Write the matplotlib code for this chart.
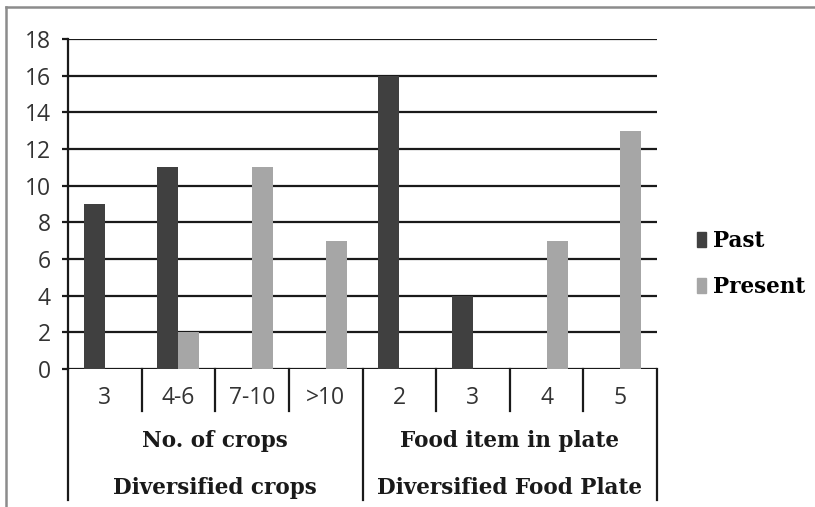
import numpy as np
import matplotlib
matplotlib.use("Agg")
import matplotlib.pyplot as plt
from matplotlib.lines import Line2D
from matplotlib.patches import Patch

# sub-categories along the x axis and their groups
sub_labels = ["3", "4-6", "7-10", ">10", "2", "3", "4", "5"]
group_mid = ["No. of crops", "Food item in plate"]
group_top = ["Diversified crops", "Diversified Food Plate"]

past = [9, 11, 0, 0, 16, 4, 0, 0]
present = [0, 2, 11, 7, 0, 0, 7, 13]

c_past = "#404040"
c_present = "#a6a6a6"
sans = "Open Sans"
serif = "DejaVu Serif"

fig = plt.figure(figsize=(8.15, 5.07), dpi=100)
ax = fig.add_axes([68 / 815, 138 / 507, 589 / 815, 330 / 507])

x = np.arange(len(sub_labels))
w = 0.285
ax.bar(x - w / 2, past, w, color=c_past, zorder=3, label="Past")
ax.bar(x + w / 2, present, w, color=c_present, zorder=3, label="Present")

ax.set_xlim(-0.5, len(sub_labels) - 0.5)
ax.set_ylim(0, 18)
ax.set_yticks(range(0, 19, 2))
ax.yaxis.grid(True, color="#1a1a1a", linewidth=1.6, zorder=1)
ax.tick_params(axis="y", length=4.5, width=1.6, color="#1a1a1a", pad=8,
               labelsize=16.5, labelcolor="#333333")
for lab in ax.get_yticklabels():
    lab.set_fontfamily(sans)
ax.set_xticks([])
for s in ["top", "right", "bottom"]:
    ax.spines[s].set_visible(False)
ax.spines["left"].set_color("#1a1a1a")
ax.spines["left"].set_linewidth(1.6)

# multi-level category axis
tr = ax.get_xaxis_transform()
ax_h = 330.0
def yf(py):
    return (369 - py) / ax_h

for i, lab in enumerate(sub_labels):
    ax.text(i, yf(398), lab, transform=tr, ha="center", va="center",
            fontsize=16.5, family=sans, color="#333333")
for xs in [0.5, 1.5, 2.5, 4.5, 5.5, 6.5]:
    ax.plot([xs, xs], [0, yf(411)], transform=tr, color="#1a1a1a",
            lw=1.6, clip_on=False)
for xs in [-0.5, 3.5, 7.5]:
    ax.plot([xs, xs], [0, yf(500)], transform=tr, color="#1a1a1a",
            lw=1.6, clip_on=False)
for g in range(2):
    cx = g * 4 + 1.5
    ax.text(cx, yf(441), group_mid[g], transform=tr, ha="center", va="center",
            fontsize=15.5, family=serif, fontweight="bold", color="#1a1a1a")
    ax.text(cx, yf(488), group_top[g], transform=tr, ha="center", va="center",
            fontsize=15.5, family=serif, fontweight="bold", color="#1a1a1a")

handles = [Patch(color=c_past), Patch(color=c_present)]
fig.legend(handles, ["Past", "Present"], loc="center left",
           bbox_to_anchor=(697 / 815, 1 - 264 / 507), frameon=False,
           borderpad=0, borderaxespad=0, handlelength=0.42, handleheight=0.7,
           handletextpad=0.32, labelspacing=1.1,
           prop={"family": serif, "weight": "bold", "size": 15.5})

# outer frame (left and top edges)
fig.add_artist(Line2D([6 / 815, 6 / 815], [0, 1 - 7 / 507], color="#8c8c8c",
                      lw=1.8, transform=fig.transFigure))
fig.add_artist(Line2D([6 / 815, 1], [1 - 7 / 507, 1 - 7 / 507], color="#8c8c8c",
                      lw=1.8, transform=fig.transFigure))

fig.savefig("out.png", dpi=100)
